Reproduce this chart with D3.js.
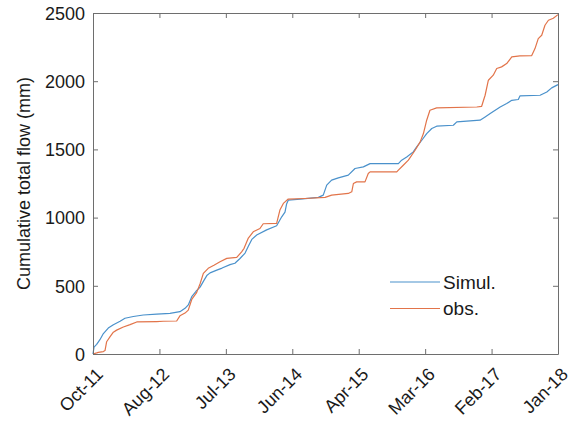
<!DOCTYPE html>
<html>
<head>
<meta charset="utf-8">
<script src="https://cdn.jsdelivr.net/npm/d3@7/dist/d3.min.js"></script>
<style>
  html, body { margin: 0; padding: 0; background: #fff; }
  svg { display: block; font-family: "Liberation Sans", Arial, Helvetica, sans-serif; }
</style>
</head>
<body>
<svg id="chart" width="576" height="426"></svg>
<script>
// Record period
const startDate = "2011-10-01";
const endDate = "2018-01-01";

// Simulated cumulative flow: day of record, value (mm)
const simDays = [0, 5, 18, 34, 51, 75, 100, 133, 157, 198, 247, 313, 378, 427, 452, 468, 485, 506, 526, 545,
  559, 575, 608, 634, 673, 697, 722, 747, 763, 780, 804, 853, 902, 927, 943, 951, 959, 1017, 1107, 1131,
  1148, 1172, 1205, 1254, 1287, 1328, 1361, 1500, 1516, 1541, 1573, 1590, 1615, 1639, 1664, 1688, 1770, 1787, 1901, 1926,
  1951, 2000, 2032, 2057, 2089, 2097, 2196, 2229, 2253, 2284];
const simValues = [0, 50, 70, 105, 150, 190, 215, 240, 262, 275, 286, 292, 298, 310, 335, 360, 420, 460, 490, 540,
  575, 595, 615, 630, 655, 665, 700, 740, 790, 840, 872, 910, 940, 1006, 1040, 1100, 1128, 1136, 1148, 1165,
  1238, 1275, 1291, 1311, 1360, 1372, 1396, 1396, 1421, 1445, 1482, 1518, 1567, 1616, 1653, 1670, 1677, 1702, 1714, 1738,
  1763, 1811, 1836, 1860, 1866, 1892, 1897, 1921, 1951, 1975];

// Observed cumulative flow: day of record, value (mm)
const obsDays = [0, 18, 26, 51, 59, 67, 84, 100, 116, 149, 182, 215, 313, 345, 411, 427, 452, 468, 485, 509,
  526, 542, 566, 594, 624, 657, 706, 730, 742, 763, 787, 820, 836, 902, 918, 935, 959, 1041, 1140, 1172,
  1254, 1271, 1279, 1295, 1336, 1352, 1361, 1492, 1500, 1524, 1549, 1582, 1607, 1623, 1639, 1655, 1688, 1885, 1909, 1926,
  1942, 1966, 1983, 2007, 2032, 2057, 2097, 2155, 2171, 2187, 2204, 2220, 2237, 2261, 2284];
const obsValues = [0, 8, 12, 18, 25, 90, 127, 160, 175, 198, 215, 235, 238, 240, 242, 280, 300, 322, 400, 450,
  515, 591, 628, 650, 676, 701, 708, 749, 775, 850, 896, 920, 955, 957, 1055, 1104, 1136, 1140, 1148, 1165,
  1177, 1189, 1250, 1262, 1262, 1323, 1335, 1335, 1348, 1384, 1421, 1494, 1555, 1616, 1714, 1787, 1804, 1811, 1816, 1897,
  2007, 2044, 2093, 2105, 2129, 2178, 2185, 2188, 2239, 2312, 2337, 2410, 2447, 2462, 2488];

const yTicks = [0, 500, 1000, 1500, 2000, 2500];
const tickCount = 8;

const seriesNames = ["Simul.", "obs."];
const seriesColors = ["#4a91cb", "#e2744a"];

const svg = d3.select("#chart");
const margin = { left: 93, right: 18, top: 13, bottom: 72 };
const W = 576, H = 426;
const x0 = margin.left, x1 = W - margin.right, y0 = H - margin.bottom, y1 = margin.top;

const parse = d3.timeParse("%Y-%m-%d");
const t0 = parse(startDate), t1 = parse(endDate);

const x = d3.scaleTime().domain([t0, t1]).range([x0, x1]);
const y = d3.scaleLinear().domain([0, 2500]).range([y0, y1]);

const xTickVals = d3.range(tickCount).map(i => new Date(+t0 + i * (t1 - t0) / (tickCount - 1)));
const fmt = d3.timeFormat("%b-%y");

const toPoints = (days, vals) => days.map((d, i) => [d3.timeDay.offset(t0, d), vals[i]]);
const series = [toPoints(simDays, simValues), toPoints(obsDays, obsValues)];

const axisColor = "#6e6e6e";
const textColor = "#1a1a1a";
const tickFont = "18px";

// Data lines
const line = d3.line().x(d => x(d[0])).y(d => y(d[1]));
svg.append("g").selectAll("path")
  .data(series)
  .join("path")
  .attr("d", line)
  .attr("fill", "none")
  .attr("stroke", (d, i) => seriesColors[i])
  .attr("stroke-width", 1.2)
  .attr("stroke-linejoin", "round");

// Axes: bottom and left with labels, top and right mirror ticks only (inward)
const tickLen = 5;
const axBottom = svg.append("g").attr("transform", `translate(0,${y0})`)
  .call(d3.axisBottom(x).tickValues(xTickVals).tickFormat(fmt).tickSizeInner(-tickLen).tickSizeOuter(0));
const axTop = svg.append("g").attr("transform", `translate(0,${y1})`)
  .call(d3.axisTop(x).tickValues(xTickVals).tickFormat("").tickSizeInner(-tickLen).tickSizeOuter(0));
const axLeft = svg.append("g").attr("transform", `translate(${x0},0)`)
  .call(d3.axisLeft(y).tickValues(yTicks).tickFormat(d3.format("d")).tickSizeInner(-tickLen).tickSizeOuter(0).tickPadding(8));
const axRight = svg.append("g").attr("transform", `translate(${x1},0)`)
  .call(d3.axisRight(y).tickValues(yTicks).tickFormat("").tickSizeInner(-tickLen).tickSizeOuter(0));

[axBottom, axTop, axLeft, axRight].forEach(g => {
  g.select(".domain").attr("stroke", axisColor).attr("stroke-width", 1);
  g.selectAll(".tick line").attr("stroke", axisColor).attr("stroke-width", 1);
  g.selectAll("text").attr("fill", textColor).style("font-size", tickFont);
});

// Rotated date labels, ending just right of and below each tick
axBottom.selectAll(".tick text")
  .attr("text-anchor", "end")
  .attr("x", 0).attr("y", 0)
  .attr("dy", "0.35em")
  .attr("transform", "translate(6,17) rotate(-45)");

axLeft.selectAll(".tick text").attr("dy", "0.35em");

// Y axis label
svg.append("text")
  .attr("transform", `translate(30,${(y0 + y1) / 2}) rotate(-90)`)
  .attr("text-anchor", "middle")
  .attr("fill", textColor)
  .style("font-size", "18px")
  .text("Cumulative total flow (mm)");

// Legend
const lg = svg.append("g").attr("transform", "translate(390,282)");
seriesNames.forEach((name, i) => {
  const row = lg.append("g").attr("transform", `translate(0,${i * 26.5})`);
  row.append("line").attr("x1", 0).attr("x2", 50).attr("y1", 0).attr("y2", 0)
    .attr("stroke", seriesColors[i]).attr("stroke-width", 1.2);
  row.append("text").attr("x", 53).attr("y", 0).attr("dy", "0.35em")
    .attr("fill", textColor).style("font-size", "19px").text(name);
});
</script>
</body>
</html>
